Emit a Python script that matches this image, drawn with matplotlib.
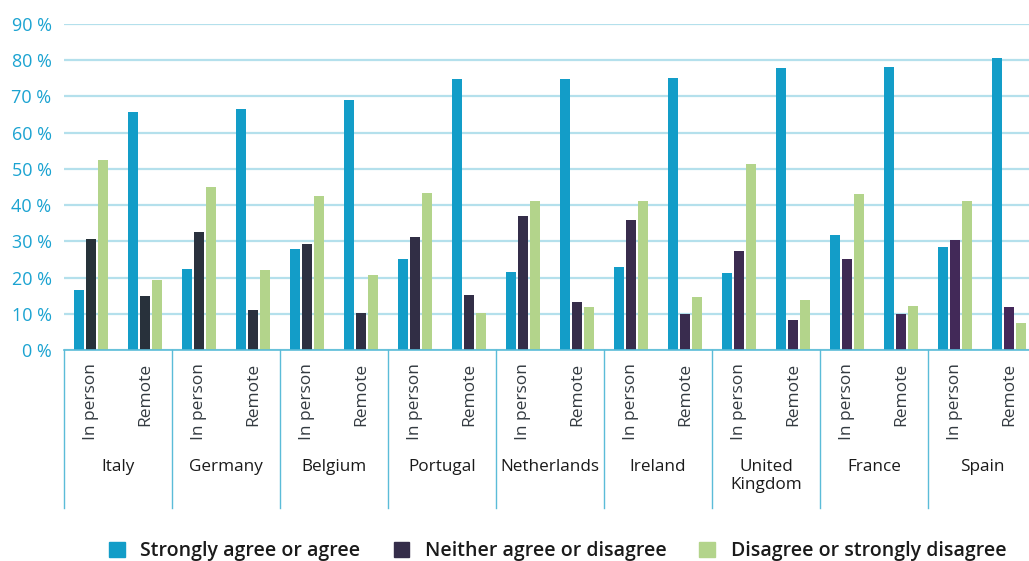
import numpy as np
import matplotlib.pyplot as plt
from matplotlib.patches import Patch
from matplotlib.colors import to_rgb
import matplotlib.transforms as mtransforms

countries = ['Italy', 'Germany', 'Belgium', 'Portugal', 'Netherlands',
             'Ireland', 'United\nKingdom', 'France', 'Spain']
modes = ['In person', 'Remote']

# values per country: (in person, remote)
agree = [16.6, 65.7, 22.5, 66.6, 27.9, 69.0, 25.2, 74.7, 21.6, 74.7,
         22.9, 75.2, 21.2, 77.8, 31.7, 78.0, 28.5, 80.6]
neither = [30.6, 14.9, 32.5, 11.0, 29.3, 10.2, 31.2, 15.2, 37.1, 13.3,
           35.9, 10.0, 27.3, 8.4, 25.0, 9.9, 30.4, 11.8]
disagree = [52.5, 19.3, 44.9, 22.2, 42.6, 20.6, 43.4, 10.1, 41.1, 12.0,
            41.1, 14.6, 51.3, 13.7, 43.1, 12.1, 41.1, 7.5]

series_names = ['Strongly agree or agree', 'Neither agree or disagree',
                'Disagree or strongly disagree']

BLUE = '#139dc8'
GREEN = '#b3d48b'
DARK0 = np.array(to_rgb('#263239'))
DARK1 = np.array(to_rgb('#44285a'))
TICK_BLUE = '#1ba3d1'
GRID = '#b4e0ec'
AXIS = '#5bbcd8'

plt.rcParams['font.family'] = ['Open Sans', 'DejaVu Sans']

fig = plt.figure(figsize=(10.29, 5.61), dpi=100)
ax = fig.add_axes([64 / 1029, 211 / 561, 965 / 1029, 326 / 561])

n = len(agree)
x = np.arange(n)
step = 0.222
w = 0.18
t = np.linspace(0, 1, n)
dark_cols = [tuple(DARK0 + (DARK1 - DARK0) * v) for v in t]

ax.bar(x - step, agree, w, color=BLUE, zorder=3)
ax.bar(x, neither, w, color=dark_cols, zorder=3)
ax.bar(x + step, disagree, w, color=GREEN, zorder=3)

ax.set_xlim(-0.5, 17.37)
ax.set_ylim(0, 90)
ax.set_yticks(np.arange(0, 91, 10))
ax.set_yticklabels([f'{v} %' for v in range(0, 91, 10)])
ax.tick_params(axis='y', length=0, pad=9, labelsize=13, labelcolor=TICK_BLUE)
ax.set_xticks([])
ax.grid(axis='y', color=GRID, linewidth=1.6, zorder=0)
for s in ['top', 'right', 'left']:
    ax.spines[s].set_visible(False)
ax.spines['bottom'].set_color(AXIS)
ax.spines['bottom'].set_linewidth(1.2)
ax.spines['bottom'].set_zorder(4)

trans = mtransforms.blended_transform_factory(ax.transData, ax.transAxes)
for b in np.arange(-0.5, n, 2):
    ax.plot([b, b], [0, -0.485], transform=trans, color=AXIS, lw=1.0,
            clip_on=False)

for i in range(n):
    ax.text(i, -0.04, modes[i % 2], transform=trans, rotation=90,
            ha='center', va='top', fontsize=12.5, color='#333a40',
            fontweight='medium')
for j, c in enumerate(countries):
    ax.text(2 * j + 0.5, -0.335, c, transform=trans, ha='center', va='top',
            fontsize=12.3, color='#1a1a1a', linespacing=1.15,
            fontweight='medium')

handles = [Patch(color=BLUE), Patch(color=tuple((DARK0 + DARK1) / 2)),
           Patch(color=GREEN)]
fig.legend(handles, series_names, loc='center', bbox_to_anchor=(0.542, 0.018),
           ncol=3, frameon=False, handlelength=0.8, handleheight=0.8,
           handletextpad=0.8, columnspacing=1.7,
           prop={'size': 14, 'weight': 'semibold'})
for txt in fig.legends[0].get_texts():
    txt.set_color('#1a1a1a')

fig.savefig('out.png', dpi=100)
